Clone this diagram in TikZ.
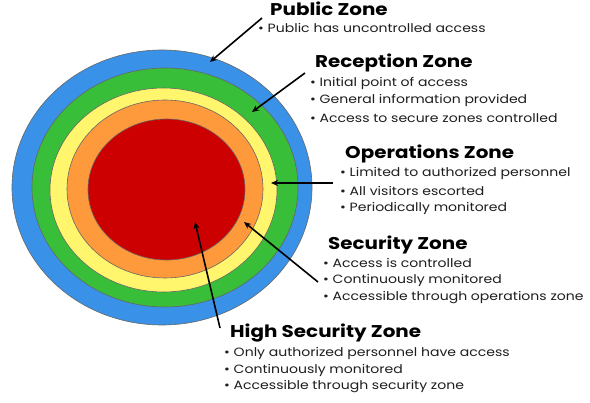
\documentclass[tikz,border=0pt]{standalone}
\usepackage{graphicx}
\usepackage{fontspec}
\setmainfont{Poppins}
\usetikzlibrary{arrows.meta}
\definecolor{zblue}{RGB}{58,145,232}
\definecolor{zgreen}{RGB}{56,190,56}
\definecolor{zyellow}{RGB}{255,246,110}
\definecolor{zorange}{RGB}{255,154,60}
\definecolor{zred}{RGB}{204,0,0}
\definecolor{ztext}{RGB}{30,30,30}
\newcommand{\zwide}[1]{\scalebox{1.17}[1]{#1}}
\begin{document}
\begin{tikzpicture}[x=1pt,y=-1pt,
  ring/.style={draw=black!60,line width=0.6pt},
  ztitle/.style={anchor=west,inner sep=0pt,font=\bfseries\fontsize{17}{17}\selectfont,text=black},
  zitem/.style={anchor=west,inner sep=0pt,font=\fontsize{12}{12}\selectfont,text=ztext},
  pointer/.style={-{Stealth[length=7pt,width=6pt]},line width=1.6pt,black}]
\useasboundingbox (0,0) rectangle (590,403);
\fill[white] (0,0) rectangle (590,403);
% rings
\filldraw[ring,fill=zblue]   (162,187.5) ellipse [x radius=150,y radius=137.5];
\filldraw[ring,fill=zgreen]  (165,187.5) ellipse [x radius=133,y radius=119.5];
\filldraw[ring,fill=zyellow] (163.5,190) ellipse [x radius=113.5,y radius=102];
\filldraw[ring,fill=zorange] (165,189)   ellipse [x radius=98,y radius=89];
\filldraw[ring,fill=zred]    (166.5,189.5) ellipse [x radius=78.5,y radius=70.5];
% texts
\node[ztitle] (pubT) at (270,9) {\zwide{Public Zone}};
\node[zitem] (pub1) at (258,28) {\zwide{\textbullet\ Public has uncontrolled access}};
\node[ztitle] (recT) at (315,63) {\zwide{Reception Zone}};
\node[zitem] (rec1) at (310,83) {\zwide{\textbullet\ Initial point of access}};
\node[zitem] (rec2) at (310,100.5) {\zwide{\textbullet\ General information provided}};
\node[zitem] (rec3) at (310,118) {\zwide{\textbullet\ Access to secure zones controlled}};
\node[ztitle] (opsT) at (345,154) {\zwide{Operations Zone}};
\node[zitem] (ops1) at (340,173) {\zwide{\textbullet\ Limited to authorized personnel}};
\node[zitem] (ops2) at (340,190.5) {\zwide{\textbullet\ All visitors escorted}};
\node[zitem] (ops3) at (340,208) {\zwide{\textbullet\ Periodically monitored}};
\node[ztitle] (secT) at (328,245) {\zwide{Security Zone}};
\node[zitem] (sec1) at (323,263) {\zwide{\textbullet\ Access is controlled}};
\node[zitem] (sec2) at (323,280.5) {\zwide{\textbullet\ Continuously monitored}};
\node[zitem] (sec3) at (323,298) {\zwide{\textbullet\ Accessible through operations zone}};
\node[ztitle] (hsT) at (230,333) {\zwide{High Security Zone}};
\node[zitem] (hs1) at (224,353) {\zwide{\textbullet\ Only authorized personnel have access}};
\node[zitem] (hs2) at (224,370) {\zwide{\textbullet\ Continuously monitored}};
\node[zitem] (hs3) at (224,387) {\zwide{\textbullet\ Accessible through security zone}};
% connector ends
\coordinate (pubS) at (262,18);   \coordinate (pubE) at (210,62);
\coordinate (recS) at (305,73);   \coordinate (recE) at (252,112);
\coordinate (opsS) at (333,183);  \coordinate (opsE) at (271,183);
\coordinate (secS) at (318,282);  \coordinate (secE) at (244,222);
\coordinate (hsS)  at (220,328);  \coordinate (hsE)  at (195,222);
\draw[pointer] (pubS) -- (pubE);
\draw[pointer] (recS) -- (recE);
\draw[pointer] (opsS) -- (opsE);
\draw[pointer] (secS) -- (secE);
\draw[pointer] (hsS) -- (hsE);
\end{tikzpicture}
\end{document}
